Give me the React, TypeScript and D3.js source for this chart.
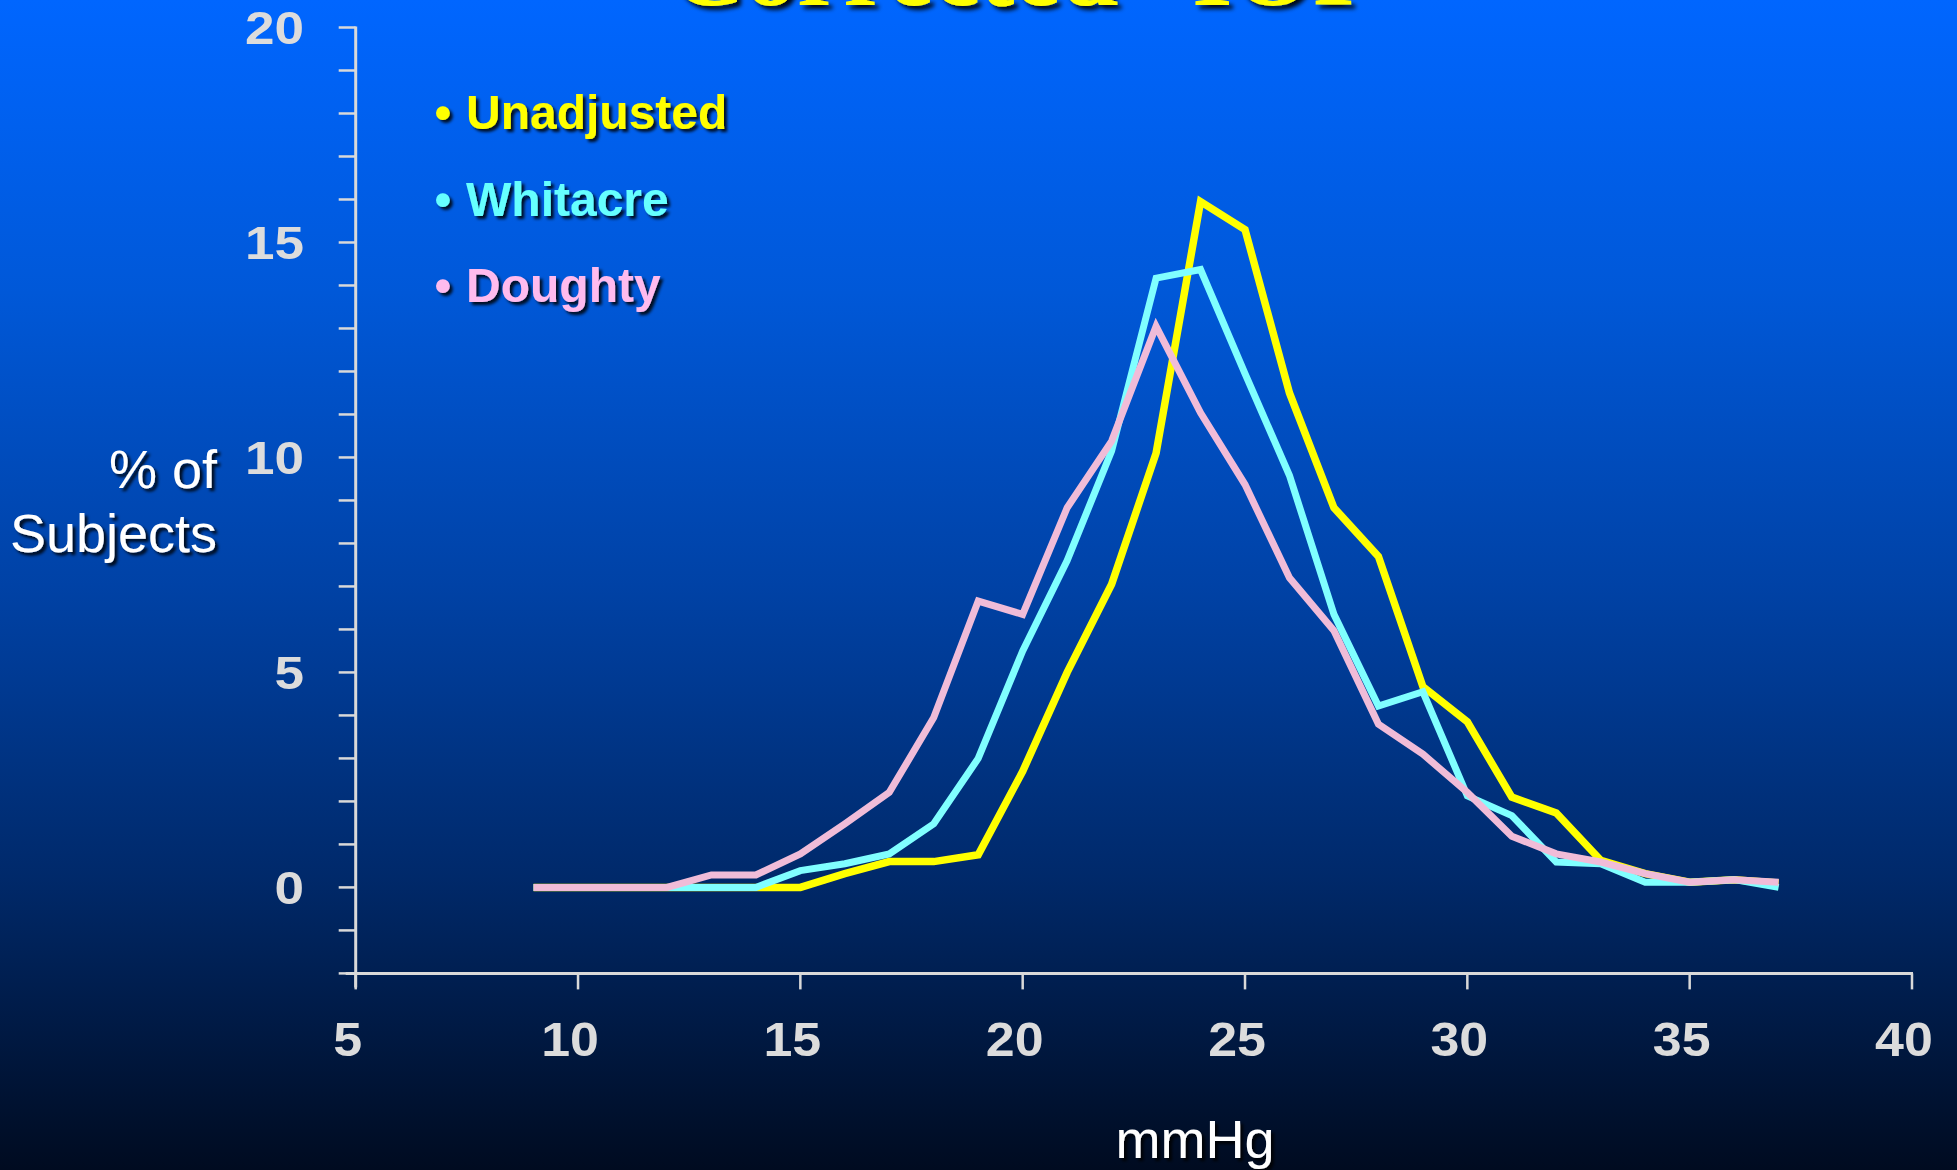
import React from "react";
import * as d3 from "d3";

const xValues = [9, 10, 11, 12, 13, 14, 15, 16, 17, 18, 19, 20, 21, 22, 23, 24, 25, 26, 27, 28, 29, 30, 31, 32, 33, 34, 35, 36, 37];
const unadjusted = [0, 0, 0, 0, 0, 0, 0, 0.32, 0.6, 0.6, 0.76, 2.7, 5.0, 7.05, 10.1, 15.95, 15.3, 11.5, 8.83, 7.7, 4.67, 3.85, 2.1, 1.73, 0.63, 0.32, 0.12, 0.18, 0.1];
const whitacre = [0, 0, 0, 0, 0, 0, 0.39, 0.55, 0.78, 1.48, 3.0, 5.5, 7.6, 10.15, 14.17, 14.37, 11.95, 9.58, 6.35, 4.22, 4.55, 2.13, 1.67, 0.59, 0.55, 0.12, 0.12, 0.18, 0.0];
const doughty = [0, 0, 0, 0, 0.29, 0.29, 0.78, 1.48, 2.21, 3.95, 6.66, 6.35, 8.83, 10.38, 13.05, 11.04, 9.37, 7.2, 5.97, 3.8, 3.1, 2.21, 1.19, 0.78, 0.59, 0.32, 0.12, 0.18, 0.12];

const seriesNames = ["Unadjusted", "Whitacre", "Doughty"];
const xTickValues = [5, 10, 15, 20, 25, 30, 35, 40];
const yLabelValues = [0, 5, 10, 15, 20];
const titleWords = ["Corrected", "IOP"];
const yTitleLines = ["% of", "Subjects"];
const xTitle = "mmHg";

const W = 1957;
const H = 1170;

export default function App() {
  const x = d3.scaleLinear().domain([5, 40]).range([355.7, 1912]);
  const y = d3.scaleLinear().domain([-2, 20]).range([973.4, 27.5]);
  const yMinorTicks = d3.range(-2, 21, 1);

  const line = d3
    .line<number>()
    .x((_, i) => x(xValues[i]))
    .y((d) => y(d));

  const series = [
    { name: seriesNames[0], values: unadjusted, color: "#ffff00", legend: "#ffff00", width: 7.5 },
    { name: seriesNames[1], values: whitacre, color: "#80ffff", legend: "#66ffff", width: 7 },
    { name: seriesNames[2], values: doughty, color: "#f0bcd8", legend: "#ffbbee", width: 7 },
  ];

  const sans = "'Liberation Sans', Arial, sans-serif";
  const serif = "'Liberation Serif', 'Times New Roman', serif";
  const axisColor = "#d9d9d9";

  return (
    <svg
      width={W}
      height={H}
      viewBox={`0 0 ${W} ${H}`}
      style={{ position: "absolute", left: 0, top: 0, display: "block" }}
    >
      <defs>
        <linearGradient id="bg" x1="0" y1="0" x2="0" y2="1">
          <stop offset="0" stopColor="#0066ff" />
          <stop offset="0.25" stopColor="#0058d8" />
          <stop offset="0.5" stopColor="#0042a6" />
          <stop offset="0.75" stopColor="#00296a" />
          <stop offset="1" stopColor="#000b20" />
        </linearGradient>
        <filter id="shadow" x="-10%" y="-30%" width="130%" height="170%">
          <feDropShadow dx="3" dy="3" stdDeviation="1.5" floodColor="#000" floodOpacity="0.85" />
        </filter>
        <filter id="shadowBig" x="-10%" y="-30%" width="130%" height="170%">
          <feDropShadow dx="4" dy="4" stdDeviation="2" floodColor="#000" floodOpacity="0.9" />
        </filter>
      </defs>
      <rect x={0} y={0} width={W} height={H} fill="url(#bg)" />

      {/* Title (cut off at top, as in the reference) */}
      <g filter="url(#shadowBig)" fill="#ffff00" fontFamily={serif} fontWeight="bold" fontSize={104}>
        <text x={670} y={5}>{titleWords[0]}</text>
        <text x={1192} y={5}>{titleWords[1]}</text>
      </g>

      {/* Y axis */}
      <g>
        <line x1={x(5)} x2={x(5)} y1={y(20) - 1} y2={y(-2) + 14} stroke={axisColor} strokeWidth={3} />
        {yMinorTicks.map((t) => (
          <line key={t} x1={x(5) - 17} x2={x(5)} y1={y(t)} y2={y(t)} stroke={axisColor} strokeWidth={2.5} />
        ))}
        {yLabelValues.map((t) => (
          <text
            key={t}
            transform={`translate(304,${y(t)}) scale(1.13,1)`}
            dy="0.36em"
            textAnchor="end"
            fill="#dcdcdc"
            fontFamily={sans}
            fontWeight="bold"
            fontSize={47}
          >
            {t}
          </text>
        ))}
      </g>

      {/* X axis */}
      <g>
        <line x1={x(5) - 10} x2={x(40) + 1} y1={y(-2)} y2={y(-2)} stroke={axisColor} strokeWidth={3} />
        {xTickValues.map((t) => (
          <line key={t} x1={x(t)} x2={x(t)} y1={y(-2)} y2={y(-2) + 16} stroke={axisColor} strokeWidth={2.5} />
        ))}
        {xTickValues.map((t) => (
          <text
            key={t}
            transform={`translate(${x(t) - 8},1056) scale(1.06,1)`}
            textAnchor="middle"
            fill="#dcdcdc"
            fontFamily={sans}
            fontWeight="bold"
            fontSize={49}
          >
            {t}
          </text>
        ))}
      </g>

      {/* Axis titles */}
      <g filter="url(#shadow)" fill="#ffffff" fontFamily={sans} fontSize={54}>
        <text x={217} y={488} textAnchor="end">{yTitleLines[0]}</text>
        <text x={217} y={552} textAnchor="end">{yTitleLines[1]}</text>
        <text x={1195} y={1158} textAnchor="middle">{xTitle}</text>
      </g>

      {/* Lines */}
      <g fill="none">
        {series.map((s) => (
          <path
            key={s.name}
            d={line(s.values) || ""}
            stroke={s.color}
            strokeWidth={s.width}
            strokeLinejoin="miter"
            strokeLinecap="butt"
          />
        ))}
      </g>

      {/* Legend */}
      <g filter="url(#shadow)" fontFamily={sans} fontWeight="bold" fontSize={48}>
        {series.map((s, i) => (
          <g key={s.name}>
            <text x={443} y={129 + i * 86.5} textAnchor="middle" fill={s.legend}>
              •
            </text>
            <text x={466} y={129 + i * 86.5} fill={s.legend}>
              {s.name}
            </text>
          </g>
        ))}
      </g>
    </svg>
  );
}
